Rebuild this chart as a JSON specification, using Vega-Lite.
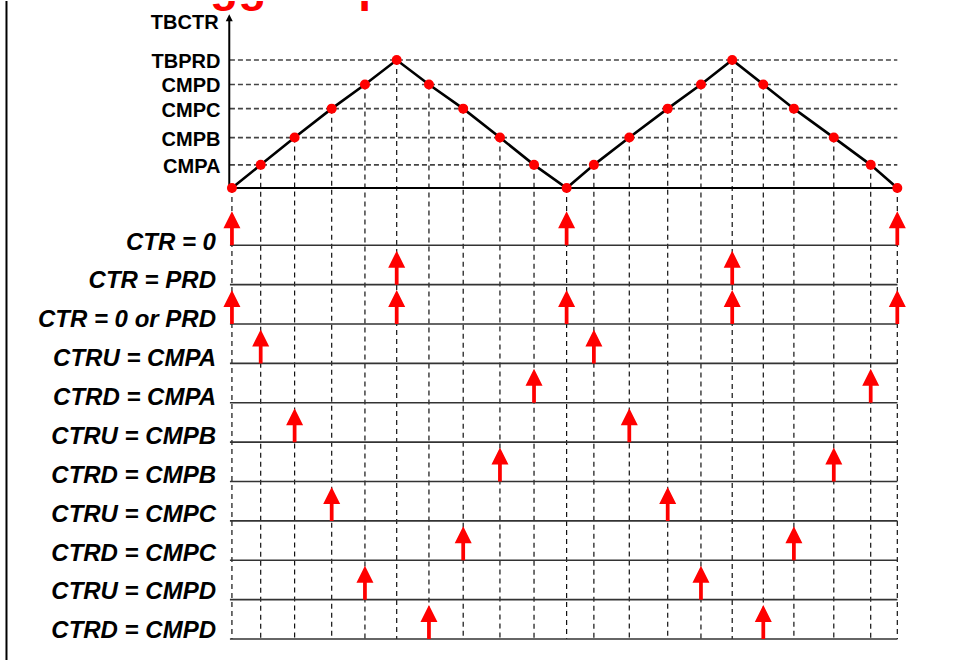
{
  "$schema": "https://vega.github.io/schema/vega-lite/v6.json",
  "width": 954,
  "height": 661,
  "autosize": {"type": "fit", "contains": "padding"},
  "padding": 0,
  "background": "white",
  "config": {"view": {"stroke": null}, "font": "Liberation Sans"},
  "datasets": {
    "points": [
      {"t": 0, "level": 0}, {"t": 17.3, "level": 18.1}, {"t": 37.7, "level": 39.4}, {"t": 60, "level": 62}, {"t": 80, "level": 80.9},
      {"t": 99.1, "level": 100}, {"t": 118.5, "level": 80.9}, {"t": 139.1, "level": 62}, {"t": 161.2, "level": 39.4}, {"t": 181.7, "level": 18.1},
      {"t": 201.3, "level": 0}, {"t": 217.7, "level": 18.1}, {"t": 239, "level": 39.4}, {"t": 262.1, "level": 62}, {"t": 282.1, "level": 80.9},
      {"t": 300.9, "level": 100}, {"t": 319.6, "level": 80.9}, {"t": 338, "level": 62}, {"t": 362, "level": 39.4}, {"t": 384.2, "level": 18.1},
      {"t": 400.2, "level": 0}
    ],
    "levels": [
      {"name": "TBPRD", "level": 100}, {"name": "CMPD", "level": 80.9}, {"name": "CMPC", "level": 62},
      {"name": "CMPB", "level": 39.4}, {"name": "CMPA", "level": 18.1}
    ],
    "rows": [
      {"i": 0, "event": "CTR = 0"}, {"i": 1, "event": "CTR = PRD"}, {"i": 2, "event": "CTR = 0 or PRD"},
      {"i": 3, "event": "CTRU = CMPA"}, {"i": 4, "event": "CTRD = CMPA"}, {"i": 5, "event": "CTRU = CMPB"},
      {"i": 6, "event": "CTRD = CMPB"}, {"i": 7, "event": "CTRU = CMPC"}, {"i": 8, "event": "CTRD = CMPC"},
      {"i": 9, "event": "CTRU = CMPD"}, {"i": 10, "event": "CTRD = CMPD"}
    ],
    "events": [
      {"i": 0, "t": 0}, {"i": 0, "t": 201.3}, {"i": 0, "t": 400.2},
      {"i": 1, "t": 99.1}, {"i": 1, "t": 300.9},
      {"i": 2, "t": 0}, {"i": 2, "t": 99.1}, {"i": 2, "t": 201.3}, {"i": 2, "t": 300.9}, {"i": 2, "t": 400.2},
      {"i": 3, "t": 17.3}, {"i": 3, "t": 217.7},
      {"i": 4, "t": 181.7}, {"i": 4, "t": 384.2},
      {"i": 5, "t": 37.7}, {"i": 5, "t": 239},
      {"i": 6, "t": 161.2}, {"i": 6, "t": 362},
      {"i": 7, "t": 60}, {"i": 7, "t": 262.1},
      {"i": 8, "t": 139.1}, {"i": 8, "t": 338},
      {"i": 9, "t": 80}, {"i": 9, "t": 282.1},
      {"i": 10, "t": 118.5}, {"i": 10, "t": 319.6}
    ]
  },
  "resolve": {"scale": {"y": "independent"}},
  "layer": [
    {
      "layer": [
        {
          "data": {"values": [{}]},
          "mark": {"type": "rule", "color": "black", "strokeWidth": 2},
          "encoding": {
            "x": {"datum": -135.6, "type": "quantitative", "scale": {"domain": [-139.5, 434.3], "nice": false, "zero": false}, "axis": null},
            "y": {"datum": 146.1, "type": "quantitative", "scale": {"domain": [-368.7, 146.1], "nice": false, "zero": false}, "axis": null},
            "y2": {"datum": -368.7}
          }
        },
        {
          "data": {"name": "levels"},
          "mark": {"type": "rule", "color": "#444444", "strokeWidth": 1.6, "strokeDash": [5, 3]},
          "encoding": {
            "x": {"datum": -1.2, "type": "quantitative", "scale": {"domain": [-139.5, 434.3], "nice": false, "zero": false}, "axis": null},
            "x2": {"datum": 400.2},
            "y": {"field": "level", "type": "quantitative", "scale": {"domain": [-368.7, 146.1], "nice": false, "zero": false}, "axis": null}
          }
        },
        {
          "data": {"name": "points"},
          "mark": {"type": "rule", "color": "#111111", "strokeWidth": 1.2, "strokeDash": [5, 4]},
          "encoding": {
            "x": {"field": "t", "type": "quantitative", "scale": {"domain": [-139.5, 434.3], "nice": false, "zero": false}, "axis": null},
            "y": {"field": "level", "type": "quantitative", "scale": {"domain": [-368.7, 146.1], "nice": false, "zero": false}, "axis": null},
            "y2": {"datum": -352.3}
          }
        },
        {
          "data": {"values": [{}]},
          "mark": {"type": "rule", "color": "black", "strokeWidth": 1.8},
          "encoding": {
            "x": {"datum": -1.2, "type": "quantitative", "scale": {"domain": [-139.5, 434.3], "nice": false, "zero": false}, "axis": null},
            "x2": {"datum": 400.3},
            "y": {"datum": 0, "type": "quantitative", "scale": {"domain": [-368.7, 146.1], "nice": false, "zero": false}, "axis": null}
          }
        },
        {
          "data": {"values": [{}]},
          "mark": {"type": "rule", "color": "black", "strokeWidth": 2},
          "encoding": {
            "x": {"datum": -1.6, "type": "quantitative", "scale": {"domain": [-139.5, 434.3], "nice": false, "zero": false}, "axis": null},
            "y": {"datum": 0, "type": "quantitative", "scale": {"domain": [-368.7, 146.1], "nice": false, "zero": false}, "axis": null},
            "y2": {"datum": 131}
          }
        },
        {
          "data": {"values": [{}]},
          "mark": {"type": "point", "shape": "M0,-1L1,1L-1,1Z", "size": 49, "filled": true, "fill": "black", "stroke": null, "opacity": 1},
          "encoding": {
            "x": {"datum": -1.6, "type": "quantitative", "scale": {"domain": [-139.5, 434.3], "nice": false, "zero": false}, "axis": null},
            "y": {"datum": 133.1, "type": "quantitative", "scale": {"domain": [-368.7, 146.1], "nice": false, "zero": false}, "axis": null}
          }
        },
        {
          "data": {"name": "points"},
          "mark": {"type": "line", "color": "black", "strokeWidth": 2.6},
          "encoding": {
            "x": {"field": "t", "type": "quantitative", "scale": {"domain": [-139.5, 434.3], "nice": false, "zero": false}, "axis": null},
            "y": {"field": "level", "type": "quantitative", "scale": {"domain": [-368.7, 146.1], "nice": false, "zero": false}, "axis": null}
          }
        },
        {
          "data": {"name": "points"},
          "mark": {"type": "point", "shape": "circle", "size": 100, "filled": true, "fill": "#ff0000", "stroke": null, "opacity": 1},
          "encoding": {
            "x": {"field": "t", "type": "quantitative", "scale": {"domain": [-139.5, 434.3], "nice": false, "zero": false}, "axis": null},
            "y": {"field": "level", "type": "quantitative", "scale": {"domain": [-368.7, 146.1], "nice": false, "zero": false}, "axis": null}
          }
        },
        {
          "data": {"name": "levels"},
          "mark": {"type": "text", "align": "right", "baseline": "middle", "dy": 2, "fontSize": 20, "fontWeight": "bold", "color": "black"},
          "encoding": {
            "x": {"datum": -6.9, "type": "quantitative", "scale": {"domain": [-139.5, 434.3], "nice": false, "zero": false}, "axis": null},
            "y": {"field": "level", "type": "quantitative", "scale": {"domain": [-368.7, 146.1], "nice": false, "zero": false}, "axis": null},
            "text": {"field": "name"}
          }
        },
        {
          "data": {"values": [{}]},
          "mark": {"type": "text", "align": "right", "baseline": "middle", "dy": 2, "fontSize": 20, "fontWeight": "bold", "color": "black"},
          "encoding": {
            "x": {"datum": -8, "type": "quantitative", "scale": {"domain": [-139.5, 434.3], "nice": false, "zero": false}, "axis": null},
            "y": {"datum": 130.1, "type": "quantitative", "scale": {"domain": [-368.7, 146.1], "nice": false, "zero": false}, "axis": null},
            "text": {"value": "TBCTR"}
          }
        },
        {
          "data": {"values": [{}]},
          "mark": {"type": "text", "align": "left", "baseline": "alphabetic", "fontSize": 46, "fontWeight": "bold", "color": "#ff0000", "clip": true},
          "encoding": {
            "x": {"datum": -130, "type": "quantitative", "scale": {"domain": [-139.5, 434.3], "nice": false, "zero": false}, "axis": null},
            "y": {"datum": 146.3, "type": "quantitative", "scale": {"domain": [-368.7, 146.1], "nice": false, "zero": false}, "axis": null},
            "text": {"value": "Event Trigger Options"}
          }
        }
      ]
    },
    {
      "layer": [
        {
          "data": {"name": "rows"},
          "mark": {"type": "rule", "color": "#333333", "strokeWidth": 1.6},
          "encoding": {
            "x": {"datum": -1.2, "type": "quantitative", "scale": {"domain": [-139.5, 434.3], "nice": false, "zero": false}, "axis": null},
            "x2": {"datum": 400.3},
            "y": {"field": "i", "type": "quantitative", "scale": {"domain": [-6.2025, 10.532], "nice": false, "zero": false, "reverse": true}, "axis": null}
          }
        },
        {
          "data": {"name": "events"},
          "mark": {"type": "point", "shape": "M0,-2L0.5,-1L0.11,-1L0.11,0L-0.11,0L-0.11,-1L-0.5,-1Z", "size": 1156, "filled": true, "fill": "#ff0000", "stroke": null, "opacity": 1},
          "encoding": {
            "x": {"field": "t", "type": "quantitative", "scale": {"domain": [-139.5, 434.3], "nice": false, "zero": false}, "axis": null},
            "y": {"field": "i", "type": "quantitative", "scale": {"domain": [-6.2025, 10.532], "nice": false, "zero": false, "reverse": true}, "axis": null}
          }
        }
      ]
    },
    {
      "data": {"name": "rows"},
      "mark": {"type": "text", "align": "right", "baseline": "alphabetic", "fontSize": 24, "fontWeight": "bold", "fontStyle": "italic", "color": "black"},
      "encoding": {
        "x": {"datum": -9.6, "type": "quantitative", "scale": {"domain": [-139.5, 434.3], "nice": false, "zero": false}, "axis": null},
        "y": {"field": "i", "type": "quantitative", "scale": {"domain": [-6.392, 10.556], "nice": false, "zero": false, "reverse": true}, "axis": null},
        "text": {"field": "event"}
      }
    }
  ]
}
